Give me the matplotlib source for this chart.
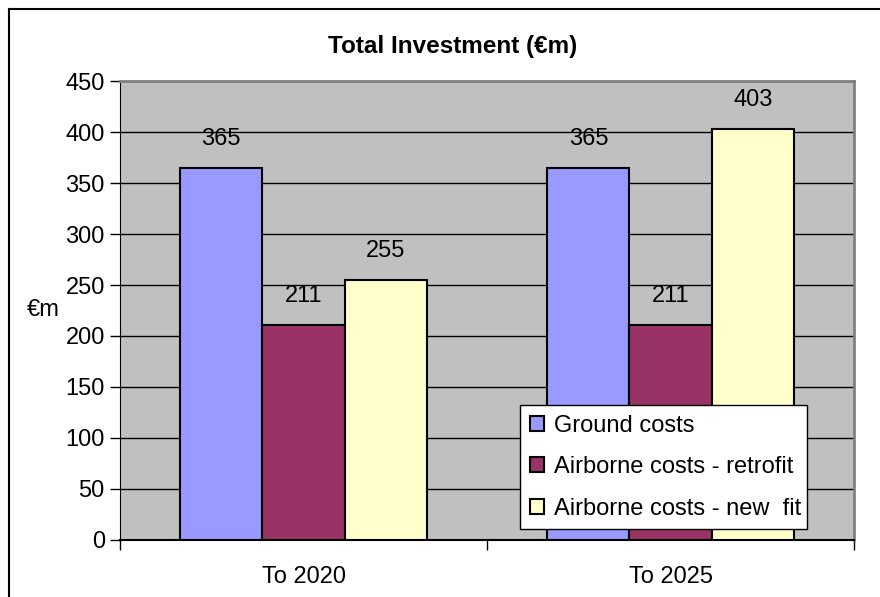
import matplotlib
matplotlib.use("Agg")
import matplotlib.pyplot as plt
from matplotlib.lines import Line2D
import numpy as np

plt.rcParams['font.family'] = ['Liberation Sans', 'DejaVu Sans']

categories = ["To 2020", "To 2025"]
series_names = ["Ground costs", "Airborne costs - retrofit", "Airborne costs - new  fit"]
ground = [365, 365]
retrofit = [211, 211]
newfit = [255, 403]
colors = ["#9999FF", "#993366", "#FFFFCC"]
yticks = [0, 50, 100, 150, 200, 250, 300, 350, 400, 450]

FS = 17

fig = plt.figure(figsize=(8.8, 5.97), dpi=100)
ax = fig.add_axes([0.1364, 0.0955, 0.8341, 0.7688])
ax.set_facecolor("#C0C0C0")

x = np.arange(len(categories))
width = 0.224
series = [ground, retrofit, newfit]
handles = []
for i, (vals, col, name) in enumerate(zip(series, colors, series_names)):
    pos = x + (i - 1) * width
    bars = ax.bar(pos, vals, width, color=col, edgecolor="black", linewidth=1.5,
                  label=name, zorder=3)
    handles.append(bars)
    for p, v in zip(pos, vals):
        ax.text(p, v + 28, f"{v}", ha="center", va="center", fontsize=FS, zorder=4)

ax.set_xlim(-0.5, 1.5)
ax.set_ylim(0, 450)
ax.set_yticks(yticks)
ax.set_yticklabels([str(t) for t in yticks], fontsize=FS)
ax.yaxis.grid(True, color="black", linewidth=1, zorder=1)
ax.set_axisbelow(True)

ax.set_xticks([-0.5, 0.5, 1.5])
ax.set_xticklabels(["", "", ""])
ax.set_xticks(x, minor=True)
ax.set_xticklabels(categories, minor=True, fontsize=FS)
ax.tick_params(axis="x", which="minor", length=0, pad=19)
ax.tick_params(axis="x", which="major", length=7, width=1, direction="out", color="black")
ax.tick_params(axis="y", length=7, width=1, direction="out", color="black", pad=4)

for side in ["top", "right"]:
    ax.spines[side].set_color("#808080")
    ax.spines[side].set_linewidth(2)
ax.spines["left"].set_color("black")
ax.spines["bottom"].set_color("black")
ax.spines["bottom"].set_linewidth(1.5)

ax.text(-0.105, 0.5, "€m", transform=ax.transAxes, ha="center", va="center", fontsize=FS)

fig.text(0.514, 0.922, "Total Investment (€m)", ha="center", va="center",
         fontsize=17.5, fontweight="bold")

leg = ax.legend(handles=handles, loc="lower left", bbox_to_anchor=(0.545, 0.024, 0.391, 0.268),
                mode="expand", fontsize=FS, frameon=True, fancybox=False, framealpha=1,
                handlelength=0.6, handleheight=0.6, handletextpad=0.45,
                labelspacing=0.82, borderpad=0.4, borderaxespad=0)
leg.get_frame().set_edgecolor("black")
leg.get_frame().set_linewidth(1)
leg.get_frame().set_facecolor("white")
leg.set_zorder(5)

# outer chart frame
fig.add_artist(Line2D([9 / 880, 9 / 880], [0, 1 - 9 / 597], color="black", linewidth=1.5,
                      transform=fig.transFigure))
fig.add_artist(Line2D([9 / 880, 1], [1 - 9 / 597, 1 - 9 / 597], color="black", linewidth=1.5,
                      transform=fig.transFigure))

fig.savefig("out.png", dpi=100, facecolor="white")
